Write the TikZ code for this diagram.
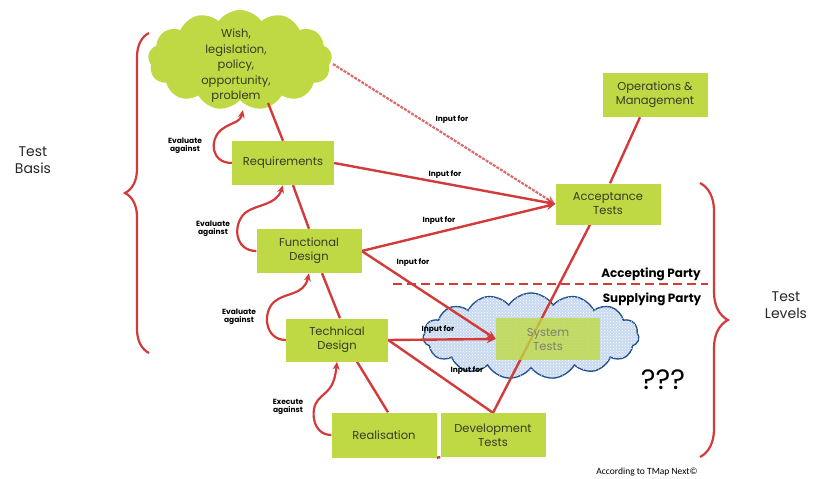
\documentclass[tikz,border=0pt]{standalone}
\usepackage{fontspec}
\setmainfont{Poppins}
\newfontfamily\carl{Carlito}
\usetikzlibrary{shapes.symbols,arrows.meta,decorations.pathreplacing,patterns}
\definecolor{lime}{HTML}{BFD944}
\definecolor{vred}{HTML}{D33A3A}
\definecolor{txt}{HTML}{3A3A26}
\definecolor{cloudblue}{HTML}{C9DAF0}
\definecolor{cloudedge}{HTML}{1F4E8C}
\pgfdeclarelayer{back}
\pgfdeclarelayer{mid}
\pgfsetlayers{back,mid,main}
\tikzset{
  box/.style={fill=lime, text=txt, align=center, inner sep=0pt,
    font=\fontsize{11.5}{14}\selectfont},
  lbl/.style={font=\fontsize{7.5}{8}\selectfont\bfseries, text=black, align=center, inner sep=0pt},
  party/.style={font=\fontsize{12}{13}\selectfont\bfseries, text=black, inner sep=0pt},
  big/.style={font=\fontsize{14}{17}\selectfont, text=black!85, align=center, inner sep=0pt},
  conn/.style={vred, line width=2.4},
  arr/.style={vred, line width=2.4, -{Stealth[length=9pt,width=8pt]}},
  evalc/.style={vred, line width=2.2, -{Stealth[length=8pt,width=7pt]}},
  bracestyle/.style={vred, line width=2.2, decorate}
}
\begin{document}
\begin{tikzpicture}[x=1pt,y=-1pt]
\useasboundingbox (0,0) rectangle (815,479);

% clouds
\begin{pgfonlayer}{back}
\node[cloud, cloud puffs=15, cloud puff arc=115, aspect=2.6, fill=cloudblue, draw=cloudedge,
  line width=1.4, minimum width=216, minimum height=86, inner sep=0pt,
  postaction={pattern=crosshatch dots, pattern color=white}] (blue) at (531,336) {};
\node[cloud, cloud puffs=13, cloud puff arc=110, aspect=1.8, fill=lime,
  minimum width=184, minimum height=100, inner sep=0pt] (wishc) at (240,60) {};
\end{pgfonlayer}

\node[text=txt, align=center, font=\fontsize{11.5}{15.5}\selectfont, inner sep=0pt] (wish) at (236,66)
  {Wish,\\legislation,\\policy,\\opportunity,\\problem};

% boxes
\node[box, minimum width=102, minimum height=44] (req) at (283,163) {Requirements};
\node[box, minimum width=105, minimum height=44] (func) at (309,251) {Functional\\Design};
\node[box, minimum width=102, minimum height=43] (tech) at (337,340) {Technical\\Design};
\node[box, minimum width=105, minimum height=45] (real) at (384,435) {Realisation};
\node[box, minimum width=105, minimum height=44] (dev) at (493,435) {Development\\Tests};
\node[box, minimum width=104, minimum height=42, fill opacity=0.8, text opacity=1, text=txt!65] (sys) at (548,339) {System\\Tests};
\node[box, minimum width=105, minimum height=41] (acc) at (608,204) {Acceptance\\Tests};
\node[box, minimum width=105, minimum height=44] (ops) at (655,95) {Operations \&\\Management};

\coordinate (wishr) at (268,103);
\coordinate (wishb) at (243,110);
\coordinate (wishe) at (333,64);
\coordinate (dl) at (393,284);
\coordinate (dr) at (708,284);

% connectors
\begin{pgfonlayer}{mid}
\draw[conn] (wishr) -- (req.north);
\draw[conn] ([xshift=10pt]req.south) -- (func.north);
\draw[conn] ([xshift=13pt]func.south) -- ([xshift=3pt]tech.north);
\draw[conn] ([xshift=20pt]tech.south) -- ([xshift=4pt]real.north);
\draw[conn] (tech.east) -- (dev.north);
\draw[conn] (dev.north) -- ([xshift=-18pt]acc.south);
\draw[conn] ([xshift=2pt]acc.north) -- ([xshift=-15pt]ops.south);
\draw[conn] (real.south east) -- (dev.south west);
\draw[arr, vred!75, line width=2.2, dash pattern=on 3pt off 1.2pt] (wishe) -- (acc.west);
\draw[arr] (req.east) -- (acc.west);
\draw[arr] (func.east) -- (acc.west);
\draw[arr] (func.east) -- (sys.west);
\draw[arr] (tech.east) -- (sys.west);
\draw[vred, line width=2, dash pattern=on 9pt off 5pt] (dl) -- (dr);
\end{pgfonlayer}

% evaluate curves
\draw[evalc] (req.west) .. controls (211,163) and (209,140) .. (221,130)
  .. controls (231,122) and (240,123) .. (wishb);
\draw[evalc] (func.west) .. controls (235,251) and (232,225) .. (245,213)
  .. controls (256,204) and (276,206) .. (req.south);
\draw[evalc] (tech.west) .. controls (265,340) and (262,313) .. (274,302)
  .. controls (285,292) and (304,296) .. (func.south);
\draw[evalc] (real.west) .. controls (312,435) and (310,409) .. (318,400)
  .. controls (327,390) and (334,390) .. (tech.south);

% small labels
\node[lbl] (l1) at (185,146) {Evaluate\\against};
\node[lbl] (l2) at (213,229) {Evaluate\\against};
\node[lbl] (l3) at (239,317) {Evaluate\\against};
\node[lbl] (l4) at (288,407) {Execute\\against};
\node[lbl] (i1) at (452,120) {Input for};
\node[lbl] (i2) at (445,175) {Input for};
\node[lbl] (i3) at (439,221) {Input for};
\node[lbl] (i4) at (413,263) {Input for};
\node[lbl] (i5) at (438,330) {Input for};
\node[lbl] (i6) at (467,371) {Input for};

\node[party] (ap) at (651,274) {Accepting Party};
\node[party] (sp) at (652,299) {Supplying Party};

% braces
\coordinate (lbB) at (149,353);
\coordinate (lbT) at (149,33);
\coordinate (rbT) at (700,183);
\coordinate (rbB) at (700,457);
\draw[bracestyle, decoration={brace, amplitude=24pt}] (lbB) -- (lbT);
\draw[bracestyle, decoration={brace, amplitude=28pt}] (rbT) -- (rbB);

\node[big] (tb) at (33,160) {Test\\Basis};
\node[big] (tl) at (786,305) {Test\\Levels};
\node[font=\fontsize{28}{30}\selectfont, text=black, inner sep=0pt] (q) at (663,380) {???};
\node[font=\carl\fontsize{9.5}{11}\selectfont, text=black, inner sep=0pt] (src) at (647,472) {According to TMap Next©};
\end{tikzpicture}
\end{document}
